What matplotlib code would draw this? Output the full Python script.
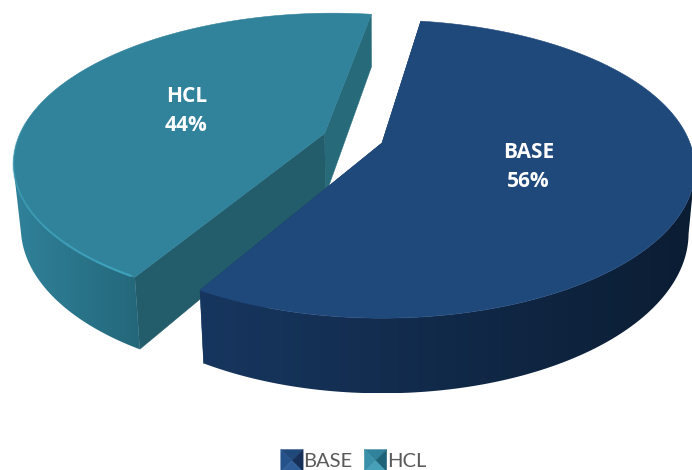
import numpy as np
import matplotlib
matplotlib.use('Agg')
import matplotlib.pyplot as plt
from matplotlib.patches import Patch, Polygon
from matplotlib.legend_handler import HandlerBase
from matplotlib.colors import to_rgb

labels = ['BASE', 'HCL']
values = [56, 44]
explode = [0.0, 0.2]
label_radius = [0.49, 0.5]

top_colors = ['#1f487b', '#31829b']
wall_left = ['#17365f', '#2f8098']
wall_right = ['#0b1d33', '#24677a']
near_cut_colors = ['#17365f', '#235c6b']
far_cut_colors = ['#17365f', '#276b7b']
rim_colors = ['#3a6aa8', '#3fa5bf']
swatch_colors = [('#1f487b', '#25528a', '#17305a', '#2e5d98'),
                 ('#31829b', '#3a90a8', '#1f6378', '#45a0b8')]

plt.rcParams['font.family'] = ['Open Sans', 'DejaVu Sans']

# pie plane to picture: perspective, so the rim is an ellipse and the centre sits off middle
CX, CY = 382, 143
A, B, K = 308, 144.5, 0.175
DEPTH = 62
START = 81.5


def project(u, v, down=False):
    d = 1 + K * v
    x = A * u / d
    y = B * v / d
    if down:
        return CX + 0.98 * x, CY - y + DEPTH / d
    return CX + x, CY - y


def mix(c1, c2, t):
    c1, c2 = np.array(to_rgb(c1)), np.array(to_rgb(c2))
    return c1 + (c2 - c1) * t


class BevelHandler(HandlerBase):
    def create_artists(self, legend, handle, xd, yd, w, h, fontsize, trans):
        cols = handle.bevel
        s = max(w, h)
        x0, y0 = (w - s) / 2 - xd, (h - s) / 2 - yd
        c = [x0, y0, x0 + s, y0 + s]
        mid = (x0 + s / 2, y0 + s / 2)
        tris = [[(c[0], c[3]), (c[2], c[3]), mid],
                [(c[0], c[1]), (c[0], c[3]), mid],
                [(c[2], c[1]), (c[2], c[3]), mid],
                [(c[0], c[1]), (c[2], c[1]), mid]]
        return [Polygon(t, closed=True, fc=col, ec=col, lw=0.3, transform=trans)
                for t, col in zip(tris, cols)]


fig = plt.figure(figsize=(6.92, 4.70), dpi=100)
ax = fig.add_axes([0, 0, 1, 1])
ax.axis('off')

# slices run clockwise from the start angle
sweeps = np.array(values) / np.sum(values) * 360
ends = START - np.cumsum(sweeps)
starts = ends + sweeps

# HCL is behind BASE, so draw it first
for i in [1, 0]:
    mid = np.radians((starts[i] + ends[i]) / 2)
    u0 = explode[i] * np.cos(mid)
    v0 = explode[i] * np.sin(mid)
    th = np.radians(np.linspace(starts[i], ends[i], 240))
    u = u0 + np.cos(th)
    v = v0 + np.sin(th)
    tx, ty = project(u, v)
    bx, by = project(u, v, down=True)
    ax_, ay_ = project(u0, v0)
    bax, bay = project(u0, v0, down=True)
    z = 3 + (1 - i) * 10

    # the two cut faces go under the wall
    near = 0 if i == 1 else -1
    far = -1 if i == 1 else 0
    ax.fill([ax_, tx[far], bx[far], bax], [ay_, ty[far], by[far], bay],
            fc=far_cut_colors[i], ec=far_cut_colors[i], lw=0.3, zorder=z - 2)
    ax.fill([ax_, tx[near], bx[near], bax], [ay_, ty[near], by[near], bay],
            fc=near_cut_colors[i], ec=near_cut_colors[i], lw=0.3, zorder=z - 2)

    # outer wall from side extreme to side extreme, gradient clipped to its outline
    front = np.sin(th) + v0 < -K
    fx, fy = tx[front], ty[front]
    gx, gy = bx[front], by[front]
    x0, x1 = gx.min(), gx.max()
    xs = np.linspace(min(fx.min(), gx.min()), max(fx.max(), gx.max()), 300)
    ts = np.clip((xs - x0) / (x1 - x0), 0, 1)
    grad = np.array([mix(wall_left[i], wall_right[i], t) for t in ts])[None, :, :]
    im = ax.imshow(grad, extent=(xs[0], xs[-1], max(fy.max(), gy.max()), min(fy.min(), gy.min())),
                   aspect='auto', zorder=z - 1, interpolation='bilinear')
    im.set_clip_path(Polygon(np.c_[np.r_[fx, gx[::-1]], np.r_[fy, gy[::-1]]],
                             transform=ax.transData))

    ax.fill(np.r_[ax_, tx], np.r_[ay_, ty], fc=top_colors[i],
            ec=top_colors[i], lw=0.4, zorder=z + 1)

    # thin lit rim on the left front, fading away from the corner
    deg = np.degrees(th) % 360
    rim_from, rim_to = (176, 239.5) if i == 1 else (240, 247)
    idx = np.where((deg > rim_from) & (deg <= rim_to))[0]
    for part in np.array_split(idx, 8):
        if len(part) < 2:
            continue
        frac = (deg[part].mean() - rim_from) / (rim_to - rim_from)
        if i == 0:
            frac = 1 - frac
        ax.plot(tx[part[0]:part[-1] + 2], ty[part[0]:part[-1] + 2], color=rim_colors[i],
                lw=1.6, alpha=0.1 + 0.85 * frac, solid_capstyle='butt', zorder=z + 2)

    r = label_radius[i]
    lx, ly = project(u0 + r * np.cos(mid), v0 + r * np.sin(mid))
    ax.text(lx, ly, f'{labels[i]}\n{values[i]}%', color='white', fontsize=15,
            fontweight='bold', ha='center', va='center', linespacing=1.5, zorder=30)

ax.set_xlim(0, 692)
ax.set_ylim(470, 0)

handles = []
for name, cols in zip(labels, swatch_colors):
    h = Patch(label=name)
    h.bevel = cols
    handles.append(h)

leg = fig.legend(handles=handles, loc='lower center', bbox_to_anchor=(0.511, -0.038),
                 ncol=2, frameon=False, fontsize=14, handlelength=1.15, handleheight=1.15,
                 handletextpad=0.02, columnspacing=0.6, labelcolor='#595959',
                 handler_map={Patch: BevelHandler()})
for t in leg.get_texts():
    t.set_family(['Lato', 'DejaVu Sans'])
    t.set_fontsize(14.5)

fig.savefig('out.png', dpi=100)
